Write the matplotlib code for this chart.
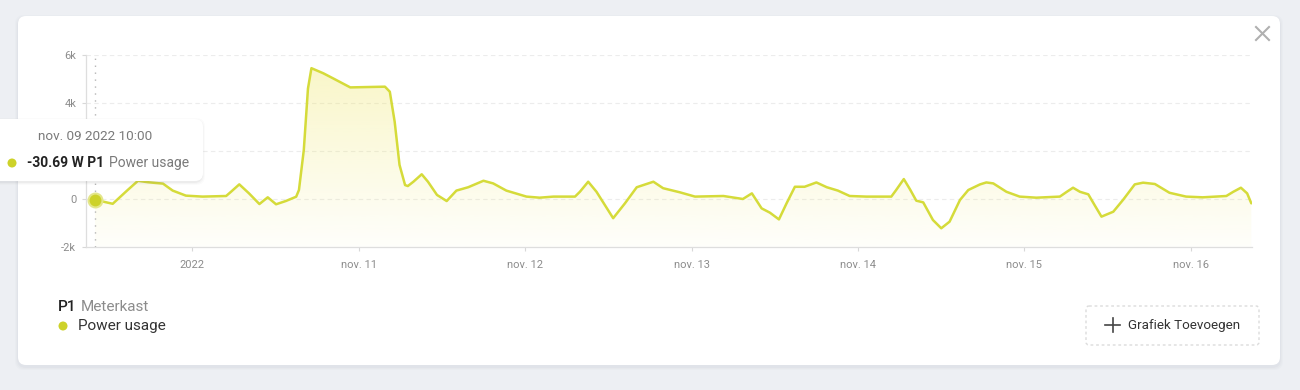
import numpy as np
import pandas as pd
import matplotlib
matplotlib.use("Agg")
import matplotlib.pyplot as plt
import matplotlib.dates as mdates
from matplotlib.patches import FancyBboxPatch, Circle

plt.rcParams['font.family'] = ['Roboto', 'DejaVu Sans']

# ---- data (hours after 2022-11-09 10:00, watts) ----
start = "2022-11-09 10:00"
hours = [0, 2.55, 4.71, 6.2, 7.6, 9.8, 11.2, 13.1, 15.5, 18.9, 19.6, 20.8, 22.2, 23.7,
         24.9, 26.1, 27.5, 29.0, 29.4, 30.1, 30.7, 31.2, 32.9, 34.3, 36.8, 41.8, 42.5,
         43.2, 43.9, 44.7, 45.1, 45.9, 47.1, 48.0, 49.3, 50.7, 52.1, 53.8, 56.0, 57.4,
         59.3, 62.2, 64.1, 66.1, 69.2, 69.9, 71.1, 72.3, 74.7, 76.4, 78.1, 80.5, 81.9,
         84.3, 86.5, 90.6, 93.4, 94.7, 96.1, 97.3, 98.6, 99.7, 100.9, 102.3, 104.0,
         105.5, 107.1, 108.8, 111.2, 114.8, 115.5, 116.6, 117.5, 118.4, 119.4, 120.8,
         122.0, 123.2, 124.7, 125.9, 127.6, 128.5, 129.5, 131.4, 133.3, 135.7, 139.1,
         140.1, 141.0, 142.0, 143.2, 144.1, 145.1, 146.8, 148.2, 149.9, 151.1, 152.8,
         154.9, 157.3, 159.7, 163.1, 164.1, 165.2, 166.1, 166.7]
watts = [-31, -200, 375, 760, 700, 640, 350, 140, 100, 125, 300, 610, 235, -210,
         70, -220, -85, 95, 375, 2040, 4600, 5450, 5240, 5030, 4650, 4680, 4470,
         3220, 1420, 580, 540, 720, 1030, 720, 170, -85, 350, 490, 760, 650,
         350, 100, 55, 100, 100, 300, 720, 300, -800, -180, 490, 720, 450,
         280, 100, 125, 0, 235, -390, -570, -850, -180, 510, 510, 690,
         490, 350, 125, 100, 100, 375, 830, 400, -70, -140, -875,
         -1220, -945, -40, 375, 610, 690, 650, 300, 100, 55, 100,
         300, 470, 300, 195, -250, -735, -530, -40, 610, 680, 625,
         260, 100, 70, 125, 300, 470, 235, -180]
y_ticks = [-2000, 0, 2000, 4000, 6000]
y_labels = ["-2k", "0", "2k", "4k", "6k"]
x_tick_days = ["2022-11-10", "2022-11-11", "2022-11-12", "2022-11-13",
               "2022-11-14", "2022-11-15", "2022-11-16"]
x_labels = ["2022", "nov. 11", "nov. 12", "nov. 13", "nov. 14", "nov. 15", "nov. 16"]
tooltip_time = "nov. 09 2022 10:00"
tooltip_value = "-30.69 W P1"
series_name = "Power usage"
device = "P1"
location = "Meterkast"
button_text = "Grafiek Toevoegen"

LINE = "#d5db3a"
DOT = "#cdd22a"

t0 = pd.Timestamp(start)
times = t0 + pd.to_timedelta(hours, unit="h")
xt = mdates.date2num(times.to_pydatetime())
x_left = mdates.date2num((t0 - pd.Timedelta(hours=1.3)).to_pydatetime())
x_right = mdates.date2num((t0 + pd.Timedelta(hours=166.8)).to_pydatetime())
tick_pos = mdates.date2num(pd.to_datetime(x_tick_days).to_pydatetime())

W, H = 1300, 390
fig = plt.figure(figsize=(13, 3.9), dpi=100)
fig.patch.set_facecolor("#edeff3")

# background card
bg = fig.add_axes([0, 0, 1, 1], zorder=0)
bg.set_xlim(0, W); bg.set_ylim(H, 0); bg.axis("off")
for i, a in enumerate([0.05, 0.04, 0.03]):
    bg.add_patch(FancyBboxPatch((18 - i - 1, 16 - i + 1), 1262 + 2 * i + 2, 349 + 2 * i + 2,
                                boxstyle="round,pad=0,rounding_size=9",
                                fc="#8a93a6", ec="none", alpha=a))
bg.add_patch(FancyBboxPatch((18, 16), 1262, 349, boxstyle="round,pad=0,rounding_size=8",
                            fc="white", ec="none"))

# chart
ax = fig.add_axes([86 / W, 1 - 247 / H, (1252 - 86) / W, (247 - 55) / H], zorder=1)
ax.patch.set_alpha(0)
ax.set_xlim(x_left, x_right)
ax.set_ylim(-2000, 6000)
ax.set_yticks(y_ticks)
ax.set_yticklabels(y_labels)
ax.set_xticks(tick_pos)
ax.set_xticklabels(x_labels)
ax.tick_params(axis="both", colors="#d8d8d8", labelcolor="#8c8c8c", labelsize=8,
               length=3, width=0.8)
ax.tick_params(axis="x", pad=6)
ax.tick_params(axis="y", pad=4)
for s in ["top", "right"]:
    ax.spines[s].set_visible(False)
for s in ["left", "bottom"]:
    ax.spines[s].set_color("#dedede")
    ax.spines[s].set_linewidth(0.9)
for yv in y_ticks[1:]:
    ax.axhline(yv, color="#ececec", lw=0.8, ls=(0, (4, 3)), zorder=0)

# gradient fill
poly = ax.fill_between(xt, watts, -2000, color="none", lw=0)
ny = 256
alpha = np.linspace(0.03, 0.38, ny)[:, None]
rgba = np.zeros((ny, 1, 4))
rgba[..., 0] = 240 / 255; rgba[..., 1] = 232 / 255; rgba[..., 2] = 110 / 255
rgba[..., 3] = alpha
im = ax.imshow(rgba, extent=[xt[0], xt[-1], -2000, 5600], origin="lower",
               aspect="auto", zorder=1)
im.set_clip_path(poly.get_paths()[0], transform=ax.transData)
ax.set_xlim(x_left, x_right); ax.set_ylim(-2000, 6000)

ax.plot(xt, watts, color=LINE, lw=1.8, solid_joinstyle="round", solid_capstyle="round",
        zorder=3)
ax.axvline(xt[0], color="#b5b5b5", lw=1, ls=(0, (1, 4)), zorder=2)
ax.plot([xt[0]], [watts[0]], "o", ms=10, color=DOT, mec="#e3e68a", mew=1.5, zorder=4)

# overlay
ov = fig.add_axes([0, 0, 1, 1], zorder=2)
ov.set_xlim(0, W); ov.set_ylim(H, 0); ov.axis("off"); ov.patch.set_alpha(0)

# tooltip
for i, a in enumerate([0.06, 0.04, 0.025]):
    ov.add_patch(FancyBboxPatch((-20 - i, 119 - i + 1), 223 + 2 * i, 62 + 2 * i + 1,
                                boxstyle="round,pad=0,rounding_size=9",
                                fc="#707070", ec="none", alpha=a))
ov.add_patch(FancyBboxPatch((-20, 119), 223, 62, boxstyle="round,pad=0,rounding_size=8",
                            fc="white", ec="none"))
ov.text(95, 137, tooltip_time, ha="center", va="center", fontsize=9.7, color="#7a7a7a")
ov.add_patch(Circle((12, 163), 4.5, fc=DOT, ec="none"))
t1 = ov.text(27, 163, tooltip_value, ha="left", va="center", fontsize=10,
             fontweight="bold", color="#222222")
ov.annotate(series_name, xy=(1, 0.5), xycoords=t1, xytext=(3.5, 0),
            textcoords="offset points", ha="left", va="center", fontsize=10,
            color="#7a7a7a")

# legend
t2 = ov.text(58, 307, device, ha="left", va="center", fontsize=11, fontweight="medium",
             color="#222222")
ov.annotate(location, xy=(1, 0.5), xycoords=t2, xytext=(3, 0),
            textcoords="offset points", ha="left", va="center", fontsize=11,
            color="#8c8c8c")
ov.add_patch(Circle((63, 326), 4.5, fc=DOT, ec="none"))
ov.text(78, 326, series_name, ha="left", va="center", fontsize=11, color="#333333")

# button
ov.add_patch(FancyBboxPatch((1086, 306), 173, 39, boxstyle="round,pad=0,rounding_size=3",
                            fc="white", ec="#dcdcdc", lw=1, ls=(0, (2, 2))))
ov.plot([1105, 1120], [325, 325], color="#444444", lw=1.2)
ov.plot([1112.5, 1112.5], [318, 332], color="#444444", lw=1.2)
ov.text(1128, 325, button_text, ha="left", va="center", fontsize=9.6, color="#333333")

# close icon
ov.plot([1256, 1269], [27, 40], color="#b0b0b0", lw=1.5)
ov.plot([1256, 1269], [40, 27], color="#b0b0b0", lw=1.5)

fig.savefig("out.png", dpi=100, facecolor=fig.get_facecolor())
